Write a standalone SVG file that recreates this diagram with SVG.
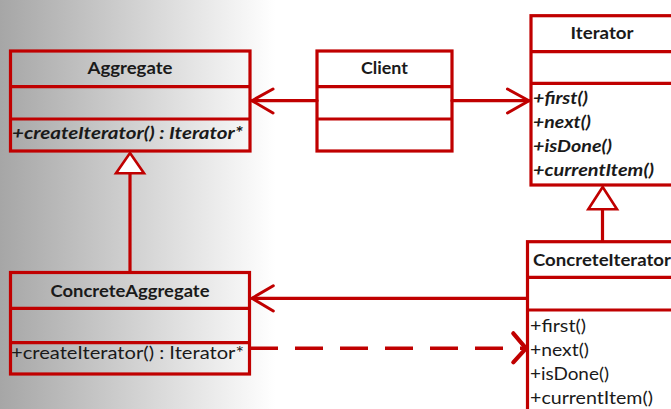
<svg xmlns="http://www.w3.org/2000/svg" width="671" height="409" viewBox="0 0 671 409">
  <defs>
    <linearGradient id="bg" x1="0" y1="0" x2="1" y2="0">
      <stop offset="0" stop-color="#a6a6a6"/>
      <stop offset="0.41" stop-color="#ffffff"/>
      <stop offset="1" stop-color="#ffffff"/>
    </linearGradient>
    <style>
      .box { fill: none; stroke: #c00000; stroke-width: 3.2; }
      .div { stroke: #c00000; stroke-width: 3.2; }
      .conn { fill: none; stroke: #c00000; stroke-width: 3.2; stroke-linecap: round; stroke-linejoin: round; }
      .dash { fill: none; stroke: #c00000; stroke-width: 3.6; stroke-dasharray: 28 17; }
      .head { fill: none; stroke: #c00000; stroke-width: 3; stroke-linecap: round; stroke-linejoin: round; }
      .tri { fill: #ffffff; stroke: #c00000; stroke-width: 2.6; stroke-linejoin: miter; }
      .title { font-family: Lato, "Open Sans", sans-serif; font-size: 17px; font-weight: bold; fill: #1a1a1a; }
      .op { font-family: Lato, "Open Sans", sans-serif; font-size: 17px; fill: #1a1a1a; }
      .abs { font-style: italic; font-weight: bold; }
    </style>
  </defs>

  <rect x="0" y="0" width="671" height="409" fill="url(#bg)"/>

  <!-- connectors -->
  <g id="connectors">
    <!-- Client to Aggregate -->
    <line class="conn" x1="317" y1="100.7" x2="252" y2="100.7"/>
    <polyline class="head" points="273,89 252,100.7 273,113"/>
    <!-- Client to Iterator -->
    <line class="conn" x1="452" y1="100.7" x2="529" y2="100.7"/>
    <polyline class="head" points="507.5,89 529,100.7 507.5,113"/>
    <!-- ConcreteAggregate generalizes Aggregate -->
    <line class="conn" x1="130" y1="173" x2="130" y2="272"/>
    <polygon class="tri" points="130,153 144,173.3 116,173.3"/>
    <!-- ConcreteIterator generalizes Iterator -->
    <line class="conn" x1="602.5" y1="209" x2="602.5" y2="241"/>
    <polygon class="tri" points="602.7,187 617,209.3 588.3,209.3"/>
    <!-- ConcreteIterator to ConcreteAggregate -->
    <line class="conn" x1="527" y1="298.3" x2="252" y2="298.3"/>
    <polyline class="head" points="273.3,285.7 252,298.3 273.3,311"/>
    <!-- ConcreteAggregate creates ConcreteIterator -->
    <line class="dash" x1="250" y1="348.3" x2="525" y2="348.3"/>
    <polyline class="head" style="stroke-width:4.2" points="513.3,333.3 526,348.3 513.3,362.3"/>
  </g>

  <g id="aggregate">
    <rect class="box" x="10.5" y="51" width="239.5" height="100"/>
    <line class="div" x1="10.5" y1="86.7" x2="250" y2="86.7"/>
    <line class="div" x1="10.5" y1="119" x2="250" y2="119"/>
    <text class="title" x="130" y="74" text-anchor="middle" textLength="85" lengthAdjust="spacingAndGlyphs">Aggregate</text>
    <text class="op abs" x="12" y="139" textLength="231" lengthAdjust="spacingAndGlyphs">+createIterator() : Iterator*</text>
  </g>

  <g id="client">
    <rect class="box" x="317" y="51" width="135" height="100"/>
    <line class="div" x1="317" y1="86.7" x2="452" y2="86.7"/>
    <line class="div" x1="317" y1="119" x2="452" y2="119"/>
    <text class="title" x="384.5" y="74" text-anchor="middle" textLength="47" lengthAdjust="spacingAndGlyphs">Client</text>
  </g>

  <g id="iterator">
    <rect class="box" x="531" y="15.7" width="160" height="169.3"/>
    <line class="div" x1="531" y1="51.7" x2="691" y2="51.7"/>
    <line class="div" x1="531" y1="83.3" x2="691" y2="83.3"/>
    <text class="title" x="602" y="39" text-anchor="middle" textLength="63" lengthAdjust="spacingAndGlyphs">Iterator</text>
    <text class="op abs" x="533" y="104" textLength="55" lengthAdjust="spacingAndGlyphs">+first()</text>
    <text class="op abs" x="533" y="128" textLength="58" lengthAdjust="spacingAndGlyphs">+next()</text>
    <text class="op abs" x="533" y="152" textLength="79" lengthAdjust="spacingAndGlyphs">+isDone()</text>
    <text class="op abs" x="533" y="176" textLength="121" lengthAdjust="spacingAndGlyphs">+currentItem()</text>
  </g>

  <g id="concrete-aggregate">
    <rect class="box" x="10.5" y="272.5" width="239" height="101.5"/>
    <line class="div" x1="10.5" y1="308.3" x2="249.5" y2="308.3"/>
    <line class="div" x1="10.5" y1="342.7" x2="249.5" y2="342.7"/>
    <text class="title" x="130" y="297" text-anchor="middle" textLength="159" lengthAdjust="spacingAndGlyphs">ConcreteAggregate</text>
    <text class="op" x="11" y="359" textLength="233" lengthAdjust="spacingAndGlyphs">+createIterator() : Iterator*</text>
  </g>

  <g id="concrete-iterator">
    <rect class="box" x="527.5" y="241.7" width="170" height="200"/>
    <line class="div" x1="527.5" y1="277.3" x2="697.5" y2="277.3"/>
    <line class="div" x1="527.5" y1="310" x2="697.5" y2="310"/>
    <text class="title" x="533" y="266" textLength="138" lengthAdjust="spacingAndGlyphs">ConcreteIterator</text>
    <text class="op" x="530" y="332" textLength="56" lengthAdjust="spacingAndGlyphs">+first()</text>
    <text class="op" x="530" y="356" textLength="59" lengthAdjust="spacingAndGlyphs">+next()</text>
    <text class="op" x="530" y="380" textLength="79" lengthAdjust="spacingAndGlyphs">+isDone()</text>
    <text class="op" x="530" y="404" textLength="123" lengthAdjust="spacingAndGlyphs">+currentItem()</text>
  </g>
</svg>
